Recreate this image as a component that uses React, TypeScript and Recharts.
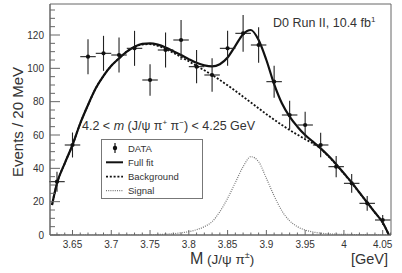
import React from 'react';
import { ComposedChart, Line, Scatter, ErrorBar, XAxis, YAxis, ReferenceArea, Legend } from 'recharts';

// ---- Data ----
const curveX = [3.6236, 3.63, 3.64, 3.65, 3.66, 3.67, 3.68, 3.69, 3.7, 3.71, 3.72, 3.73, 3.74, 3.75, 3.76, 3.77, 3.78, 3.79, 3.8, 3.81, 3.82, 3.83, 3.84, 3.85, 3.86, 3.87, 3.88, 3.89, 3.9, 3.91, 3.92, 3.93, 3.94, 3.95, 3.96, 3.97, 3.98, 3.99, 4.0, 4.01, 4.02, 4.03, 4.04, 4.05, 4.058];
const fullFit = [18, 31, 43, 54, 67, 78, 88, 95.5, 101.5, 106, 110, 113, 114.7, 115, 114.2, 112.5, 110.3, 108, 105.5, 103.3, 101.8, 101.2, 102.5, 106.5, 113.5, 120.5, 123, 117, 105, 90.5, 79, 71, 65, 60, 56, 52, 47.5, 42.5, 37, 31.5, 25.5, 19.5, 13.5, 7.5, 0];
const background = [18, 31, 43, 54, 67, 78, 88, 95.5, 101.5, 106, 110, 112.8, 114.3, 114.5, 113.5, 111.6, 109.3, 106.8, 104.2, 101.5, 98.8, 96, 93, 89.8, 86.5, 83, 79.5, 76, 72.5, 69.2, 66, 63, 60.2, 57.5, 55, 51.8, 47.2, 42.2, 36.8, 31.3, 25.3, 19.4, 13.4, 7.4, 0];
const signal = [0, 0, 0, 0, 0, 0, 0, 0, 0, 0, 0, 0, 0, 0, 0.3, 0.5, 0.8, 1.3, 2, 3.2, 5, 8, 14, 22, 31.5, 41, 47, 44, 34, 23.5, 14.5, 8.5, 5, 3, 1.8, 1.1, 0.7, 0.5, 0.4, 0.3, 0.2, 0.2, 0.1, 0.1, 0.1];

const pointX = [3.63, 3.65, 3.67, 3.69, 3.71, 3.73, 3.75, 3.77, 3.79, 3.81, 3.83, 3.85, 3.87, 3.89, 3.91, 3.93, 3.95, 3.97, 3.99, 4.01, 4.03, 4.05];
const pointY = [32, 54, 107, 109, 108, 112, 93, 111, 117, 101, 96, 112, 121, 114, 92, 72, 66, 54, 41, 31, 19, 9];
const pointErr = [6, 7.5, 10.5, 10.5, 10.5, 10.5, 9.5, 10.5, 12, 10, 10, 10.5, 11, 10.7, 9.6, 8.5, 8, 7.3, 6.4, 5.6, 4.4, 3];
const BIN_HALF = 0.01;

const xTicks = [3.63, 3.64, 3.65, 3.66, 3.67, 3.68, 3.69, 3.7, 3.71, 3.72, 3.73, 3.74, 3.75, 3.76, 3.77, 3.78, 3.79, 3.8, 3.81, 3.82, 3.83, 3.84, 3.85, 3.86, 3.87, 3.88, 3.89, 3.9, 3.91, 3.92, 3.93, 3.94, 3.95, 3.96, 3.97, 3.98, 3.99, 4.0, 4.01, 4.02, 4.03, 4.04, 4.05, 4.06];
const yTicks = [0, 5, 10, 15, 20, 25, 30, 35, 40, 45, 50, 55, 60, 65, 70, 75, 80, 85, 90, 95, 100, 105, 110, 115, 120, 125, 130, 135];

const X_MIN = 3.621;
const X_MAX = 4.0607;
const Y_MAX = 138.6;

const curveRows = curveX.map((x, i) => ({ x, full: fullFit[i], bkg: background[i], sig: signal[i] }));
const pointRows = pointX.map((x, i) => ({ x, y: pointY[i], ey: pointErr[i], ex: BIN_HALF }));

const FONT = '"Liberation Sans", Arial, Helvetica, sans-serif';
const AXIS = '#666';
const TXT = '#333';

const XTick = (props: any) => {
  const { x, y, payload } = props;
  const v = payload.value as number;
  const major = Math.abs(v * 20 - Math.round(v * 20)) < 1e-6;
  return (
    <g>
      <line x1={x} x2={x} y1={y} y2={y - (major ? 5 : 2.5)} stroke={AXIS} strokeWidth={1} />
      {major && (
        <text x={x} y={y + 12.5} textAnchor="middle" fontSize={10} fill={TXT} fontFamily={FONT}>
          {String(Number(v.toFixed(2)))}
        </text>
      )}
    </g>
  );
};

const YTick = (props: any) => {
  const { x, y, payload } = props;
  const v = payload.value as number;
  const major = v % 20 === 0;
  return (
    <g>
      <line x1={x} x2={x + (major ? 10 : 5)} y1={y} y2={y} stroke={AXIS} strokeWidth={1} />
      {major && (
        <text x={x - 6} y={y + 3.5} textAnchor="end" fontSize={10} fill={TXT} fontFamily={FONT}>
          {v}
        </text>
      )}
    </g>
  );
};

const LegendBox = () => (
  <svg width={102} height={60} style={{ display: 'block', overflow: 'visible' }}>
    <rect x={0.5} y={0.5} width={101} height={59} fill="#fff" stroke="#777" strokeWidth={1} />
    <g fontFamily={FONT} fontSize={9.5} fill={TXT}>
      <line x1={14} x2={14} y1={4} y2={14} stroke="#111" strokeWidth={1.2} />
      <circle cx={14} cy={9} r={2.2} fill="#111" />
      <text x={27} y={12.5}>DATA</text>
      <line x1={5} x2={22} y1={23.3} y2={23.3} stroke="#111" strokeWidth={2} />
      <text x={27} y={26.8}>Full fit</text>
      <line x1={5} x2={22} y1={37.7} y2={37.7} stroke="#111" strokeWidth={1.8} strokeDasharray="2 1.8" />
      <text x={27} y={41.2}>Background</text>
      <line x1={5} x2={22} y1={51.7} y2={51.7} stroke="#777" strokeWidth={1.2} strokeDasharray="1 1.2" />
      <text x={27} y={55.2}>Signal</text>
    </g>
  </svg>
);

export default function App() {
  return (
    <div style={{ position: 'absolute', left: 0, top: 0, width: 402, height: 273, background: '#fff' }}>
      <ComposedChart
        width={402}
        height={273}
        data={curveRows}
        margin={{ top: 4, right: 11, bottom: 0, left: 0 }}
      >
        <XAxis
          dataKey="x"
          type="number"
          domain={[X_MIN, X_MAX]}
          allowDataOverflow
          ticks={xTicks}
          interval={0}
          tick={<XTick />}
          tickLine={false}
          tickSize={0}
          tickMargin={0}
          height={38}
          axisLine={{ stroke: AXIS, strokeWidth: 1 }}
        />
        <YAxis
          type="number"
          domain={[0, Y_MAX]}
          allowDataOverflow
          ticks={yTicks}
          interval={0}
          tick={<YTick />}
          tickLine={false}
          tickSize={0}
          tickMargin={0}
          width={50}
          axisLine={{ stroke: AXIS, strokeWidth: 1 }}
        />
        <ReferenceArea x1={X_MIN} x2={X_MAX} y1={0} y2={Y_MAX} fill="none" stroke={AXIS} strokeWidth={1} />
        <Line
          dataKey="sig"
          type="monotone"
          stroke="#777"
          strokeWidth={1.2}
          strokeDasharray="1 1.2"
          dot={false}
          isAnimationActive={false}
          legendType="none"
        />
        <Line
          dataKey="bkg"
          type="monotone"
          stroke="#111"
          strokeWidth={1.8}
          strokeDasharray="2 1.8"
          dot={false}
          isAnimationActive={false}
          legendType="none"
        />
        <Line
          dataKey="full"
          type="monotone"
          stroke="#111"
          strokeWidth={2.2}
          dot={false}
          isAnimationActive={false}
          legendType="none"
        />
        <Scatter
          data={pointRows}
          dataKey="y"
          isAnimationActive={false}
          legendType="none"
          shape={(p: any) => <circle cx={p.cx} cy={p.cy} r={2.1} fill="#111" />}
        >
          <ErrorBar dataKey="ey" direction="y" width={0} stroke="#222" strokeWidth={1.1} />
          <ErrorBar dataKey="ex" direction="x" width={0} stroke="#222" strokeWidth={1.1} />
        </Scatter>
        <Legend
          layout="vertical"
          align="center"
          verticalAlign="middle"
          content={<LegendBox />}
          wrapperStyle={{ position: 'absolute', left: 101, top: 139, width: 102, height: 60 }}
        />
      </ComposedChart>
      <svg
        width={402}
        height={273}
        style={{ position: 'absolute', left: 0, top: 0, pointerEvents: 'none' }}
      >
        <g fontFamily={FONT} fill={TXT}>
          <text x={273} y={27} fontSize={12.5}>
            D0 Run II, 10.4 fb<tspan fontSize={8} dy={-5}>1</tspan>
          </text>
          <text x={82} y={130} fontSize={12.5}>
            4.2 &lt; <tspan fontStyle="italic">m</tspan> (J/ψ π<tspan fontSize={8} dy={-5}>+</tspan>
            <tspan dy={5}> π</tspan><tspan fontSize={8} dy={-5}>−</tspan><tspan dy={5}>) &lt; 4.25 GeV</tspan>
          </text>
          <text x={190} y={264} fontSize={16}>
            M<tspan fontSize={13.5}> (J/ψ π</tspan><tspan fontSize={9} dy={-6}>±</tspan><tspan fontSize={13.5} dy={6}>)</tspan>
          </text>
          <text x={388} y={264} fontSize={14.5} textAnchor="end">[GeV]</text>
          <text
            x={0}
            y={0}
            fontSize={15}
            textAnchor="middle"
            transform="translate(23,122) rotate(-90)"
          >
            Events / 20 MeV
          </text>
        </g>
      </svg>
    </div>
  );
}
